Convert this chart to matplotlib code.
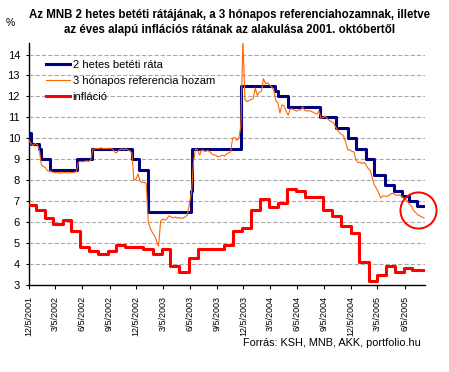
import matplotlib
matplotlib.use("Agg")
import matplotlib.pyplot as plt
from matplotlib.lines import Line2D
import pandas as pd

plt.rcParams['font.family'] = ['Liberation Sans', 'DejaVu Sans']
plt.rcParams['lines.scale_dashes'] = False

# 2 hetes betéti ráta (MNB) - lépcsős
blue_dates = ['2001-12-05', '2001-12-12', '2002-01-08', '2002-01-16', '2002-02-16',
              '2002-05-17', '2002-07-06', '2002-11-20', '2002-12-13', '2003-01-14',
              '2003-06-08', '2003-06-13', '2003-11-26', '2004-03-22', '2004-04-02',
              '2004-05-06', '2004-08-20', '2004-10-14', '2004-11-25', '2004-12-23',
              '2005-01-26', '2005-02-21', '2005-03-30', '2005-04-30', '2005-05-26',
              '2005-06-20', '2005-07-18']
blue_vals = [10.25, 9.75, 9.5, 9.0, 8.5, 9.0, 9.5, 9.0, 8.5, 6.5,
             7.5, 9.5, 12.5, 12.25, 12.0, 11.5, 11.0, 10.5, 10.0, 9.5,
             9.0, 8.25, 7.75, 7.5, 7.25, 7.0, 6.75]
blue_end = '2005-08-14'

# 3 hónapos referenciahozam - heti leolvasás
ref_start = '2001-12-05'
ref_vals = [
    9.9, 9.75, 9.65, 9.75, 9.7, 9.45, 8.75, 8.65, 8.6, 8.45, 8.45, 8.4, 8.38,
    8.35, 8.38, 8.33, 8.36, 8.35, 8.38, 8.34, 8.37, 8.36, 8.38, 8.4, 8.85, 8.9,
    8.88, 8.9, 8.92, 8.9, 8.95, 9.45, 9.5, 9.52, 9.5, 9.55, 9.5, 9.52, 9.5,
    9.53, 9.5, 9.45, 9.3, 9.35, 9.45, 9.5, 9.45, 9.5, 9.45, 9.4, 9.3, 8.0,
    8.05, 8.3, 7.95, 7.9, 7.9, 7.85, 6.0, 5.7, 5.5, 5.35, 5.1, 4.85, 6.05,
    6.15, 6.1, 6.15, 6.3, 6.25, 6.2, 6.25, 6.2, 6.22, 6.18, 6.2, 6.25, 6.35,
    6.9, 7.4, 8.9, 9.5, 9.45, 9.2, 9.45, 9.4, 9.38, 9.42, 9.35, 9.25, 9.2,
    9.18, 9.12, 9.15, 9.2, 9.15, 9.25, 9.3, 9.35, 10.0, 10.05, 9.9, 10.0,
    10.6, 14.7, 11.85, 11.75, 11.8, 11.85, 11.9, 12.4, 12.05, 12.2, 12.25, 12.85,
    12.6, 12.65, 12.55, 12.45, 12.3, 11.8, 11.7, 11.2, 11.6, 11.55, 11.3, 11.1,
    11.4, 11.4, 11.35, 11.3, 11.35, 11.35, 11.5, 11.35, 11.3, 11.32, 11.3, 11.25,
    11.2, 11.15, 11.3, 10.95, 11.0, 11.05, 10.95, 10.85, 10.8, 10.75, 10.55, 10.4,
    10.25, 10.2, 10.1, 9.8, 9.45, 9.45, 9.38, 9.35, 8.95, 8.85, 8.85, 8.8,
    8.85, 8.7, 8.55, 8.45, 8.05, 7.75, 7.6, 7.4, 7.15, 7.25, 7.25, 7.22,
    7.28, 7.35, 7.38, 7.3, 7.28, 7.3, 7.25, 7.15, 7.1, 7.0, 6.85, 6.75,
    6.55, 6.45, 6.35, 6.3, 6.25, 6.2]

# infláció (éves) - havi lépcsők
infl_dates = ['2001-12-05', '2001-12-28', '2002-01-28', '2002-02-26', '2002-03-31',
              '2002-04-28', '2002-05-29', '2002-06-26', '2002-07-28', '2002-08-31',
              '2002-09-28', '2002-10-29', '2002-12-28', '2003-01-31', '2003-03-02',
              '2003-03-30', '2003-04-29', '2003-06-02', '2003-07-03', '2003-09-29',
              '2003-10-31', '2003-11-30', '2003-12-31', '2004-01-31', '2004-03-01',
              '2004-03-31', '2004-05-02', '2004-05-31', '2004-07-02', '2004-09-01',
              '2004-09-30', '2004-10-31', '2004-12-04', '2005-01-01', '2005-02-04',
              '2005-03-04', '2005-04-04', '2005-05-03', '2005-06-03', '2005-07-01']
infl_vals = [6.8, 6.6, 6.2, 5.9, 6.1, 5.6, 4.8, 4.6, 4.5, 4.6,
             4.9, 4.8, 4.7, 4.5, 4.7, 3.9, 3.6, 4.3, 4.7, 4.9,
             5.6, 5.7, 6.6, 7.1, 6.7, 6.9, 7.6, 7.5, 7.2, 6.6,
             6.3, 5.8, 5.5, 4.1, 3.2, 3.5, 3.9, 3.6, 3.8, 3.7]
infl_end = '2005-08-06'

tick_dates = ['2001-12-05', '2002-03-05', '2002-06-05', '2002-09-05', '2002-12-05',
              '2003-03-05', '2003-06-05', '2003-09-05', '2003-12-05', '2004-03-05',
              '2004-06-05', '2004-09-05', '2004-12-05', '2005-03-05', '2005-06-05']
tick_labels = ['12/5/2001', '3/5/2002', '6/5/2002', '9/5/2002', '12/5/2002',
               '3/5/2003', '6/5/2003', '9/5/2003', '12/5/2003', '3/5/2004',
               '6/5/2004', '9/5/2004', '12/5/2004', '3/5/2005', '6/5/2005']

highlight_date = '2005-07-22'
highlight_val = 6.58

labels = ['2 hetes betéti ráta', '3 hónapos referencia hozam', 'infláció']
colors = ['#000080', '#FF6600', '#FF0000']

fig = plt.figure(figsize=(4.49, 3.72), dpi=100)
ax = fig.add_axes([29 / 449, 87 / 372, 395.5 / 449, 242 / 372])

bd = pd.to_datetime(blue_dates + [blue_end])
ax.step(bd, blue_vals + [blue_vals[-1]], where='post', color=colors[0], lw=2.2, zorder=3)

rd = pd.date_range(ref_start, periods=len(ref_vals), freq='7D')
ax.plot(rd, ref_vals, color=colors[1], lw=0.8, zorder=4)

idates = pd.to_datetime(infl_dates + [infl_end])
ax.step(idates, infl_vals + [infl_vals[-1]], where='post', color=colors[2], lw=2.2, zorder=5)

ax.plot([pd.Timestamp(highlight_date)], [highlight_val], marker='o', ms=26, mfc='none',
        mec='#FF0000', mew=1.4, clip_on=False, zorder=6)

ax.set_ylim(3, 14.55)
ax.set_yticks(range(3, 15))
ax.set_xlim(pd.Timestamp('2001-12-05'), pd.Timestamp('2005-08-12'))
ax.set_xticks(pd.to_datetime(tick_dates))
ax.set_xticklabels(tick_labels, rotation=90, fontsize=6.5)
ax.tick_params(axis='y', length=2.5, pad=4, labelsize=8)
ax.tick_params(axis='x', length=3, pad=5)

for v in range(4, 15):
    ax.axhline(v, color='#a8a8a8', lw=0.8, ls=(0, (3, 1.5)), zorder=1)

for s in ['top', 'right']:
    ax.spines[s].set_visible(False)
for s in ['left', 'bottom']:
    ax.spines[s].set_linewidth(1.0)

handles = [Line2D([], [], color=colors[0], lw=2.2),
           Line2D([], [], color=colors[1], lw=0.8),
           Line2D([], [], color=colors[2], lw=2.2)]
fig.legend(handles, labels, loc='upper left', bbox_to_anchor=(46 / 449, 1 - 60 / 372),
           frameon=False, fontsize=8, handlelength=2.2, handletextpad=0.2,
           labelspacing=0.55, borderpad=0, borderaxespad=0)

fig.text(229.7 / 449, 1 - 15 / 372,
         'Az MNB 2 hetes betéti rátájának, a 3 hónapos referenciahozamnak, illetve',
         ha='center', va='center', fontsize=8.3, fontweight='bold')
fig.text(229.7 / 449, 1 - 29.5 / 372,
         'az éves alapú inflációs rátának az alakulása 2001. októbertől',
         ha='center', va='center', fontsize=8.3, fontweight='bold')
fig.text(10 / 449, 1 - 23 / 372, '%', ha='center', va='center', fontsize=7.5)
fig.text(421 / 449, 1 - 343 / 372, 'Forrás: KSH, MNB, AKK, portfolio.hu',
         ha='right', va='center', fontsize=7.8)

fig.savefig('out.png', dpi=100)
